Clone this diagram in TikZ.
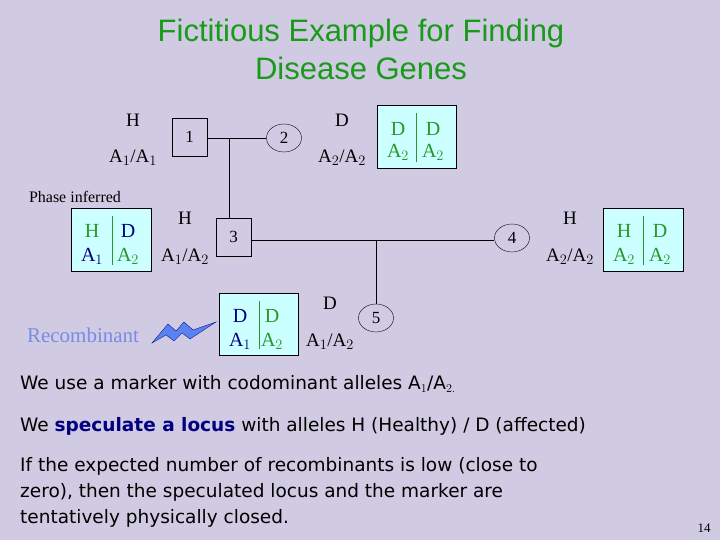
\documentclass[tikz,border=0pt]{standalone}
\usepackage{fontspec}
\usetikzlibrary{shapes.geometric}
\setmainfont{Liberation Serif}
\newfontfamily\arialf{Liberation Sans}
\newfontfamily\comicf{DejaVu Sans}
\definecolor{bg}{RGB}{208,202,226}
\definecolor{boxfill}{RGB}{204,255,255}
\definecolor{gtxt}{RGB}{40,150,40}
\definecolor{ttl}{RGB}{26,154,26}
\definecolor{nvy}{RGB}{0,0,128}
\definecolor{recb}{RGB}{120,140,230}
\definecolor{bolt}{RGB}{90,130,240}
\begin{document}
\begin{tikzpicture}[x=1pt,y=-1pt,
  lbl/.style={font=\fontsize{19}{19}\selectfont, inner sep=0},
  blbl/.style={font=\fontsize{20}{20}\selectfont, inner sep=0},
  sq/.style={draw, minimum width=35pt, minimum height=38pt, inner sep=0, font=\fontsize{17}{17}\selectfont},
  circ/.style={draw, ellipse, minimum width=35pt, minimum height=28pt, inner sep=0, font=\fontsize{17}{17}\selectfont},
  gbox/.style={draw, fill=boxfill, inner sep=0},
  body/.style={font=\comicf\fontsize{18.5}{26}\selectfont, anchor=west, inner sep=0, align=left}]
\fill[bg] (0,0) rectangle (720,540);
\useasboundingbox (0,0) rectangle (720,540);
% title
\node[font=\arialf\fontsize{31}{38}\selectfont, text=ttl, align=center] (title) at (361,49) {Fictitious Example for Finding\\Disease Genes};
% pedigree
\node[sq] (p1) at (189.5,137) {1};
\node[circ] (p2) at (284,138) {2};
\node[sq] (p3) at (233.5,237) {3};
\node[circ] (p4) at (512,238) {4};
\node[circ] (p5) at (376,318) {5};
\coordinate (m12) at (229,138);
\coordinate (m34) at (376,240);
\draw (p1.east |- m12) -- (p2.west);
\draw (m12) -- (m12 |- p3.north);
\draw (p3.east |- m34) -- (m34 -| p4.west);
\draw (m34) -- (p5.north);
% labels
\node[lbl] (h1) at (133,120) {H};
\node[lbl] (g1) at (133,158) {A$_1$/A$_1$};
\node[lbl] (h2) at (342,120) {D};
\node[lbl] (g2) at (342,158) {A$_2$/A$_2$};
\node[lbl] (h3) at (185,218) {H};
\node[lbl] (g3) at (185,257) {A$_1$/A$_2$};
\node[lbl] (h4) at (570,218) {H};
\node[lbl] (g4) at (570,257) {A$_2$/A$_2$};
\node[lbl] (h5) at (330,303) {D};
\node[lbl] (g5) at (330,342) {A$_1$/A$_2$};
\node[font=\fontsize{16}{16}\selectfont, inner sep=0] (phase) at (75,197) {Phase inferred};
\node[font=\fontsize{21}{21}\selectfont, text=recb, inner sep=0] (recomb) at (83,335) {Recombinant};
% haplotype boxes
\draw[gbox] (377,105) rectangle (456,168);
\draw[gtxt] (416.5,113) -- (416.5,162);
\node[blbl,text=gtxt] (b1a) at (398,129) {D};
\node[blbl,text=gtxt] (b1b) at (433,129) {D};
\node[blbl,text=gtxt] (b1c) at (398,152) {A$_2$};
\node[blbl,text=gtxt] (b1d) at (433,152) {A$_2$};
\draw[gbox] (71,208) rectangle (151,271);
\draw[gtxt] (112,216) -- (112,265);
\node[blbl,text=gtxt] (b2h) at (92,231) {H};
\node[blbl,text=nvy] (b2b) at (128,231) {D};
\node[blbl,text=nvy] (b2c) at (92,256) {A$_1$};
\node[blbl,text=gtxt] (b2d) at (128,256) {A$_2$};
\draw[gbox] (603,208) rectangle (683,271);
\draw[gtxt] (643,216) -- (643,265);
\node[blbl,text=gtxt] (b3a) at (624,231) {H};
\node[blbl,text=gtxt] (b3b) at (660,231) {D};
\node[blbl,text=gtxt] (b3c) at (624,256) {A$_2$};
\node[blbl,text=gtxt] (b3d) at (660,256) {A$_2$};
\draw[gbox] (219,293) rectangle (298,355);
\draw[gtxt] (259,301) -- (259,349);
\node[blbl,text=nvy] (b4a) at (240,316) {D};
\node[blbl,text=gtxt] (b4b) at (272,316) {D};
\node[blbl,text=nvy] (b4c) at (240,341) {A$_1$};
\node[blbl,text=gtxt] (b4d) at (272,341) {A$_2$};
% bolt
\fill[bolt, draw=nvy, line width=0.3pt] (152,343) -- (168,324) -- (176,331) -- (184,322) -- (193,330) -- (216,322) -- (190,339) -- (182,333) -- (174,341) -- (166,335) -- cycle;
% body text
\node[body] (t1) at (20,384) {We use a marker with codominant alleles A$_1$/A$_{2.}$};
\node[body] (t2) at (20,426) {We \textcolor{nvy}{\textbf{speculate a locus}} with alleles H (Healthy) / D (affected)};
\node[body] (t3) at (20,492) {If the expected number of recombinants is low (close to\\zero), then the speculated locus and the marker are\\tentatively physically closed.};
\node[font=\fontsize{13}{13}\selectfont, inner sep=0] (pg) at (704,528) {14};
\end{tikzpicture}
\end{document}
